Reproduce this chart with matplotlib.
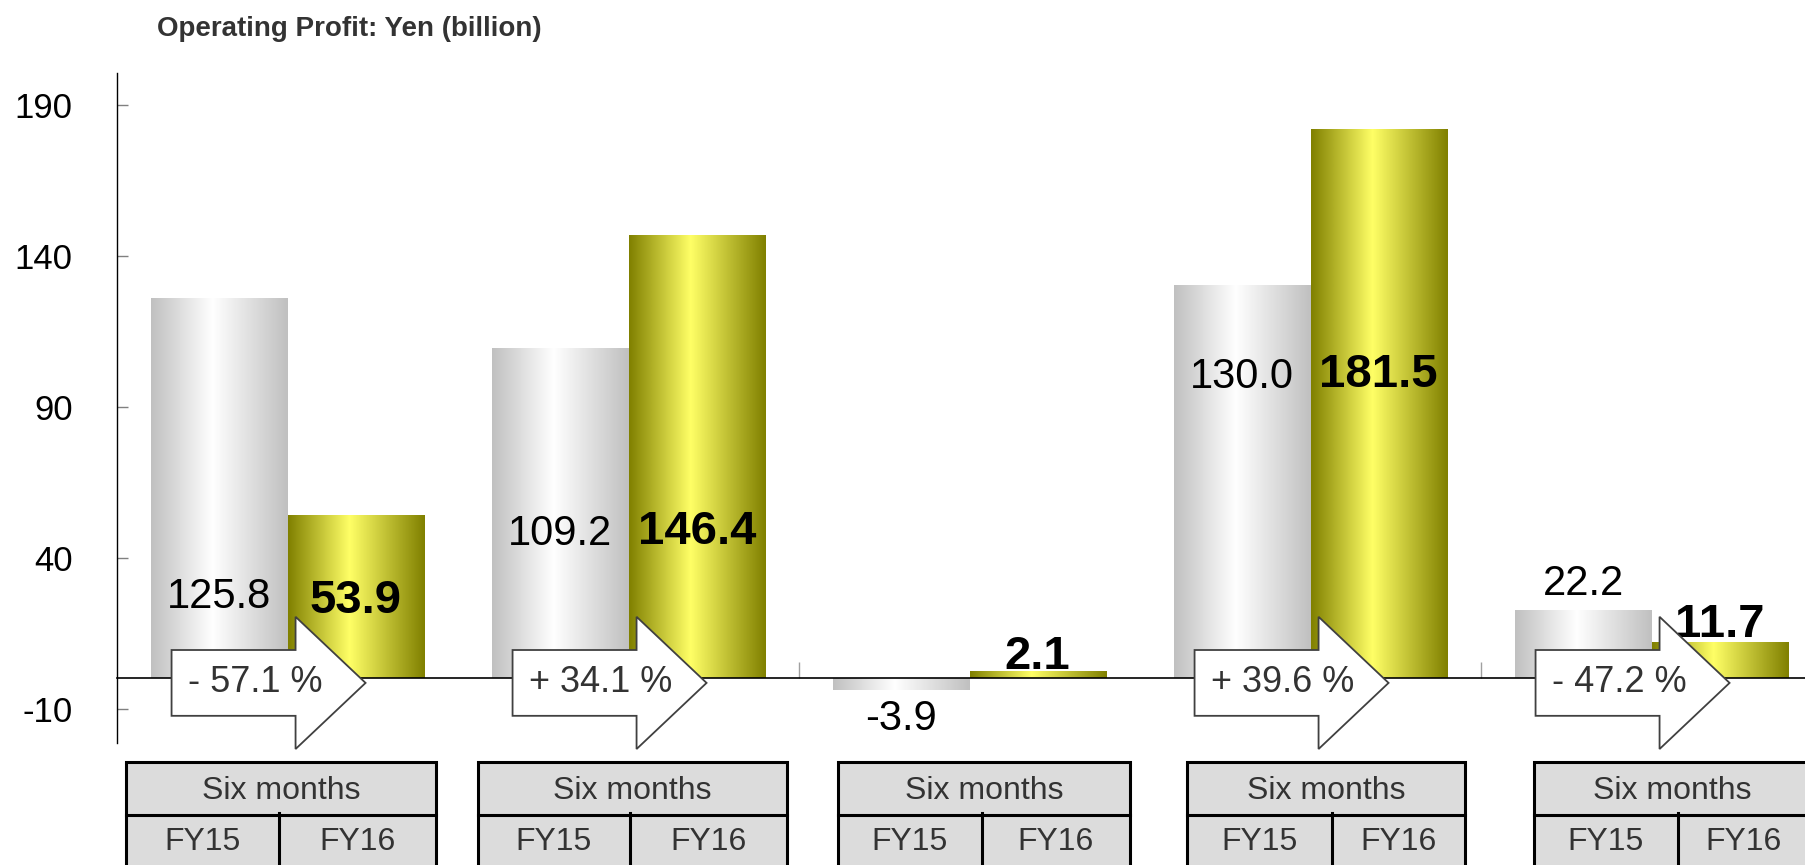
import numpy as np
import matplotlib
matplotlib.use('Agg')
import matplotlib.pyplot as plt
from matplotlib.colors import LinearSegmentedColormap
from matplotlib.patches import Polygon, Rectangle

plt.rcParams['font.family'] = ['Liberation Sans', 'DejaVu Sans']
plt.rcParams['axes.unicode_minus'] = False

# operating profit, yen billion, per segment
fy15 = [125.8, 109.2, -3.9, 130.0, 22.2]
fy16 = [53.9, 146.4, 2.1, 181.5, 11.7]
changes = ['- 57.1 %', '+ 34.1 %', None, '+ 39.6 %', '- 47.2 %']
yticks = [-10, 40, 90, 140, 190]
period_label = 'Six months'
year_labels = ['FY15', 'FY16']
title = 'Operating Profit: Yen (billion)'

# where the value labels sit (y, data units)
fy15_label_y = [26.8, 47.8, -13.4, 99.9, 31.3]
fy16_label_y = [25.5, 48.5, 7.2, 100.5, 17.6]

# table boxes under the chart (pixels)
box_left = [126, 478, 838, 1187, 1534]
box_mid = [279, 630, 982, 1332, 1678]
box_right = [436, 787, 1130, 1465, 1810]

W, H = 1805, 865
fig = plt.figure(figsize=(W / 100, H / 100), dpi=100)
ax = fig.add_axes([117 / W, (H - 743) / H, 1705 / W, 670 / H])

silver = LinearSegmentedColormap.from_list(
    'silver', [(0, '#c0c0c0'), (0.45, '#ffffff'), (1, '#c0c0c0')])
gold = LinearSegmentedColormap.from_list(
    'gold', [(0, '#808000'), (0.45, '#ffff66'), (1, '#808000')])
grad = np.linspace(0, 1, 256).reshape(1, -1)

bw = 0.4
x = np.arange(len(fy15))
bars15 = ax.bar(x - bw / 2, fy15, bw, color='none', linewidth=0)
bars16 = ax.bar(x + bw / 2, fy16, bw, color='none', linewidth=0)
for bars, cmap in [(bars15, silver), (bars16, gold)]:
    for b in bars:
        x0, y0 = b.get_x(), b.get_y()
        ax.imshow(grad, cmap=cmap, aspect='auto', interpolation='bilinear',
                  extent=(x0, x0 + b.get_width(), y0, y0 + b.get_height()),
                  zorder=1)

ax.set_xlim(-0.5, 4.5)
ax.set_ylim(-21.4, 200.5)

ax.spines[['top', 'right']].set_visible(False)
ax.spines['bottom'].set_position(('data', 0))
ax.spines['left'].set_linewidth(1.0)
ax.spines['bottom'].set_linewidth(1.2)
ax.set_yticks(yticks)
ax.tick_params(axis='y', direction='in', length=8, width=1, color='#808080',
               labelsize=25, pad=32)
ax.set_xticks([1.5, 3.5])
ax.set_xticklabels([])
ax.tick_params(axis='x', direction='in', length=11.5, width=1, color='#a0a0a0')

for i in x:
    ax.text(i - bw / 2, fy15_label_y[i], f'{fy15[i]:.1f}', ha='center',
            va='center', fontsize=30, color='black', zorder=4)
    ax.text(i + bw / 2, fy16_label_y[i], f'{fy16[i]:.1f}', ha='center',
            va='center', fontsize=34, fontweight='bold', color='black', zorder=4)

# change arrows
for i, lab in enumerate(changes):
    if lab is None:
        continue
    left = i - 0.34
    neck = left + 124 / 341
    tip = left + 194 / 341
    yc = -1.5
    bh, hh = 10.9, 21.9
    pts = [(left, yc - bh), (left, yc + bh), (neck, yc + bh), (neck, yc + hh),
           (tip, yc), (neck, yc - hh), (neck, yc - bh)]
    ax.add_patch(Polygon(pts, closed=True, facecolor='white', edgecolor='#404040',
                         lw=1.3, zorder=5, joinstyle='miter', clip_on=False))
    ax.text(left + 0.047, yc + 0.3, lab, ha='left', va='center', fontsize=26,
            color='#333333', zorder=6)

# overlay in pixel units for title and table
ov = fig.add_axes([0, 0, 1, 1])
ov.set_xlim(0, W)
ov.set_ylim(H, 0)
ov.axis('off')
ov.text(157, 28.5, title, ha='left', va='center', fontsize=20, fontweight='bold',
        color='#333333')

for l, m, r in zip(box_left, box_mid, box_right):
    ov.add_patch(Rectangle((l, 762), r - l, 130, facecolor='#dcdcdc',
                           edgecolor='black', lw=2.2))
    ov.plot([l, r], [815, 815], color='black', lw=2.2)
    ov.plot([m, m], [813, 880], color='black', lw=2.2)
    ov.text((l + r) / 2, 791, period_label, ha='center', va='center',
            fontsize=23, color='#333333')
    ov.text((l + m) / 2, 842, year_labels[0], ha='center', va='center',
            fontsize=23, color='#333333')
    ov.text((m + r) / 2, 842, year_labels[1], ha='center', va='center',
            fontsize=23, color='#333333')

fig.savefig('out.png', dpi=100)
